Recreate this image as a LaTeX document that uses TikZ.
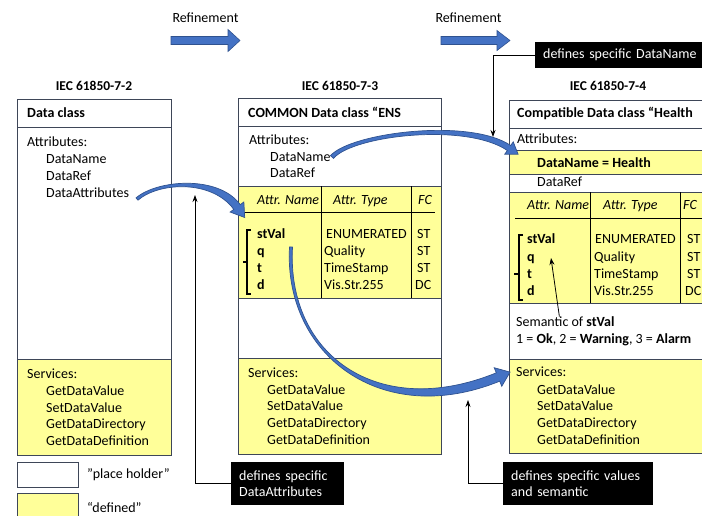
\documentclass[tikz,border=0pt]{standalone}
\usepackage{fontspec}
\setmainfont{Carlito}
\usetikzlibrary{calc,arrows.meta}

\definecolor{boxline}{RGB}{62,70,88}
\definecolor{defyellow}{RGB}{255,255,153}
\definecolor{bandblue}{RGB}{68,114,196}
\definecolor{bandedge}{RGB}{47,82,143}

\newcommand\fs{\fontsize{14}{16.8}\selectfont}
\newcommand\fh{\fontsize{13.5}{16}\selectfont\bfseries}

% Tapered curved arrow:
% #1 start, #2 control 1, #3 control 2, #4 end of body,
% #5 half width at start, #6 half width at end, #7 head half width, #8 head length
\newcommand\bandarrow[8]{%
  \path ($(#1)!#5!90:(#2)$) coordinate (bandA1)
        ($(#1)!#5!-90:(#2)$) coordinate (bandA2)
        ($(#4)!#6!-90:(#3)$) coordinate (bandB1)
        ($(#4)!#6!90:(#3)$) coordinate (bandB2)
        ($(#4)!#7!-90:(#3)$) coordinate (bandW1)
        ($(#4)!#7!90:(#3)$) coordinate (bandW2)
        ($(#4)!-#8!(#3)$) coordinate (bandT);
  \filldraw[band] (bandA1) .. controls ($(#2)+(bandA1)-(#1)$) and ($(#3)+(bandB1)-(#4)$) .. (bandB1)
    -- (bandW1) -- (bandT) -- (bandW2) -- (bandB2)
    .. controls ($(#3)+(bandB2)-(#4)$) and ($(#2)+(bandA2)-(#1)$) .. (bandA2) -- cycle;}

\begin{document}
\begin{tikzpicture}[x=1pt,y=-1pt,
  txt/.style={anchor=base west,inner sep=0pt,font=\fs},
  btxt/.style={txt,font=\fs\bfseries},
  itxt/.style={txt,font=\fs\itshape},
  ctxt/.style={anchor=base,inner sep=0pt,font=\fs},
  hdr/.style={anchor=base,inner sep=0pt,font=\fh},
  frame/.style={draw=boxline,line width=0.9pt},
  rule/.style={draw=black,line width=0.8pt},
  brace/.style={draw=black,line width=1.1pt},
  note/.style={fill=black,text=white,inner xsep=8pt,inner ysep=0pt,font=\fs,
    align=left,anchor=north west},
  pointer/.style={draw=black,line width=0.8pt,-{Stealth[length=7pt,width=5pt]}},
  refine/.style={fill=bandblue,draw=bandedge,line width=0.6pt},
  band/.style={fill=bandblue,draw=bandedge,line width=0.7pt}]

\clip (0,0) rectangle (702,515);
\fill[white] (0,0) rectangle (702,515);

% ---------- refinement arrows ----------
\node[ctxt] (ref1) at (205.5,22.5) {Refinement};
\node[ctxt] (ref2) at (468.5,22.5) {Refinement};
\filldraw[refine] (171,36.5) -- (228,36.5) -- (228,29.5) -- (240,40.5) -- (228,51.5)
  -- (228,44.5) -- (171,44.5) -- cycle;
\filldraw[refine] (441,36.5) -- (497,36.5) -- (497,30.5) -- (510,40.5) -- (497,50.5)
  -- (497,44.5) -- (441,44.5) -- cycle;

% ---------- standard headings ----------
\node[hdr] (std2) at (94,90.5) {IEC 61850-7-2};
\node[hdr] (std3) at (340,90.5) {IEC 61850-7-3};
\node[hdr] (std4) at (608,90.5) {IEC 61850-7-4};

% ---------- IEC 61850-7-2 : Data class ----------
\fill[defyellow] (17,359) rectangle (171,455);
\draw[frame] (17,99) rectangle (171,455);
\draw[frame] (17,127) -- (171,127);
\draw[frame] (17,359) -- (171,359);
\node[btxt] (dc-title) at (27,117.5) {Data class};
\node[txt] (dc-attr) at (27,146.5) {Attributes:};
\node[txt] (dc-name) at (46,163.5) {DataName};
\node[txt] (dc-ref) at (46,180.5) {DataRef};
\node[txt] (dc-attrs) at (46,197.5) {DataAttributes};
\node[txt] (dc-serv) at (27,378.5) {Services:};
\node[txt] (dc-s1) at (46,395.5) {GetDataValue};
\node[txt] (dc-s2) at (46,412.5) {SetDataValue};
\node[txt] (dc-s3) at (46,428.5) {GetDataDirectory};
\node[txt] (dc-s4) at (46,445.5) {GetDataDefinition};

% ---------- IEC 61850-7-3 : common data class ENS ----------
\fill[defyellow] (238,186) rectangle (441,298);
\fill[defyellow] (238,358) rectangle (441,454);
\draw[frame] (238,98) rectangle (441,454);
\foreach \yy in {126,186,298,358} \draw[frame] (238,\yy) -- (441,\yy);
\draw[rule] (321,186) -- (321,298);
\draw[rule] (411,186) -- (411,298);
\draw[rule] (245,212) -- (435,212);
\node[btxt] (ens-title) at (248,117.5) {COMMON Data class “ENS};
\node[txt] (ens-attr) at (249,144.5) {Attributes:};
\node[txt] (ens-name) at (270,161.5) {DataName};
\node[txt] (ens-ref) at (270,177.8) {DataRef};
\node[itxt] (ens-h1) at (257,204.5) {Attr. Name};
\node[itxt] (ens-h2) at (333,204.5) {Attr. Type};
\node[itxt] (ens-h3) at (418,204.5) {FC};
\node[btxt] (ens-a1) at (257,238.5) {stVal};
\node[btxt] (ens-a2) at (257,255.5) {q};
\node[btxt] (ens-a3) at (257,272.5) {t};
\node[btxt] (ens-a4) at (257,289.5) {d};
\node[txt] (ens-t1) at (326,238.5) {ENUMERATED};
\node[txt] (ens-t2) at (324,255.5) {Quality};
\node[txt] (ens-t3) at (324,272.5) {TimeStamp};
\node[txt] (ens-t4) at (324,289.5) {Vis.Str.255};
\node[txt] (ens-f1) at (417,238.5) {ST};
\node[txt] (ens-f2) at (417,255.5) {ST};
\node[txt] (ens-f3) at (417,272.5) {ST};
\node[txt] (ens-f4) at (415,289.5) {DC};
\draw[brace] (251,230) -- (247,230) -- (247,294) -- (251,294);
\draw[brace] (247,262) -- (243,262);
\node[txt] (ens-serv) at (248,377.5) {Services:};
\node[txt] (ens-s1) at (267,394.5) {GetDataValue};
\node[txt] (ens-s2) at (267,410.5) {SetDataValue};
\node[txt] (ens-s3) at (267,427.5) {GetDataDirectory};
\node[txt] (ens-s4) at (267,444.5) {GetDataDefinition};

% ---------- IEC 61850-7-4 : compatible data class Health ----------
\fill[defyellow] (509,150) rectangle (712,174);
\fill[defyellow] (509,192) rectangle (712,303);
\fill[defyellow] (509,359) rectangle (712,453);
\draw[frame] (509,100) rectangle (712,453);
\foreach \yy in {128,150,174,192,303,359} \draw[frame] (509,\yy) -- (712,\yy);
\draw[rule] (590,192) -- (590,303);
\draw[rule] (680,192) -- (680,303);
\draw[rule] (515,218) -- (712,218);
\node[btxt] (hl-title) at (517,117.5) {Compatible Data class “Health};
\node[txt] (hl-attr) at (517,143.5) {Attributes:};
\node[btxt] (hl-name) at (537,167.5) {DataName = Health};
\node[txt] (hl-ref) at (537,186.5) {DataRef};
\node[itxt] (hl-h1) at (527,209.5) {Attr. Name};
\node[itxt] (hl-h2) at (603,209.5) {Attr. Type};
\node[itxt] (hl-h3) at (683,209.5) {FC};
\node[btxt] (hl-a1) at (527,243.5) {stVal};
\node[btxt] (hl-a2) at (527,261.2) {q};
\node[btxt] (hl-a3) at (527,278.5) {t};
\node[btxt] (hl-a4) at (527,295.2) {d};
\node[txt] (hl-t1) at (595,243.5) {ENUMERATED};
\node[txt] (hl-t2) at (594,261.2) {Quality};
\node[txt] (hl-t3) at (594,278.5) {TimeStamp};
\node[txt] (hl-t4) at (594,295.2) {Vis.Str.255};
\node[txt] (hl-f1) at (687,243.5) {ST};
\node[txt] (hl-f2) at (687,261.2) {ST};
\node[txt] (hl-f3) at (687,278.5) {ST};
\node[txt] (hl-f4) at (685,295.2) {DC};
\draw[brace] (523,235) -- (519,235) -- (519,300) -- (523,300);
\draw[brace] (519,274) -- (514,274);
\node[txt] (sem) at (516,326.5) {Semantic of \textbf{stVal}};
\node[txt] (sem-val) at (516,343.5) {1 = \textbf{Ok}, 2 = \textbf{Warning}, 3 = \textbf{Alarm}};
\node[txt] (hl-serv) at (516,376.5) {Services:};
\node[txt] (hl-s1) at (537,394.5) {GetDataValue};
\node[txt] (hl-s2) at (537,410.5) {SetDataValue};
\node[txt] (hl-s3) at (537,427.5) {GetDataDirectory};
\node[txt] (hl-s4) at (537,444.5) {GetDataDefinition};

% ---------- legend ----------
\draw[frame,fill=white] (17,462) rectangle (78,487);
\draw[frame,fill=defyellow] (17,493) rectangle (78,520);
\node[txt] (leg-ph) at (87,478.5) {”place holder”};
\node[txt] (leg-def) at (87,512.5) {“defined”};

% ---------- curved refinement bands ----------
\coordinate (b1s) at (137,199);  \coordinate (b1a) at (158,181);
\coordinate (b1b) at (215,177);  \coordinate (b1e) at (237,207);
\bandarrow{b1s}{b1a}{b1b}{b1e}{1.5pt}{4pt}{8.5pt}{13pt}

\coordinate (b2s) at (332,157);  \coordinate (b2a) at (352,134);
\coordinate (b2b) at (468,120);  \coordinate (b2e) at (509,148);
\bandarrow{b2s}{b2a}{b2b}{b2e}{2pt}{3pt}{7.5pt}{11pt}

\coordinate (b3s) at (291,247);  \coordinate (b3a) at (285,355);
\coordinate (b3b) at (380,425);  \coordinate (b3e) at (498,377);
\bandarrow{b3s}{b3a}{b3b}{b3e}{1.5pt}{4.5pt}{10pt}{13pt}

% ---------- explanatory notes ----------
\node[note,text width=97pt,minimum height=43pt] (noteA) at (231,462)
  {defines specific\\DataAttributes};
\node[note,text width=134pt,minimum height=43pt] (noteB) at (503,462)
  {defines specific values\\and semantic};
\node[note,text width=160pt,minimum height=26pt] (noteC) at (535,42)
  {defines specific DataName};

\coordinate (attrtip) at (195,195);
\coordinate (valtip) at (468,400);
\coordinate (nametip) at (493,137);
\coordinate (stvaltip) at (551,258);
\draw[pointer] (noteA.west) -| (attrtip);
\draw[pointer] (noteB.west) -| (valtip);
\draw[pointer] (noteC.west) -| (nametip);
\draw[pointer] ([xshift=-6pt]sem.north) -- (stvaltip);

\end{tikzpicture}
\end{document}
